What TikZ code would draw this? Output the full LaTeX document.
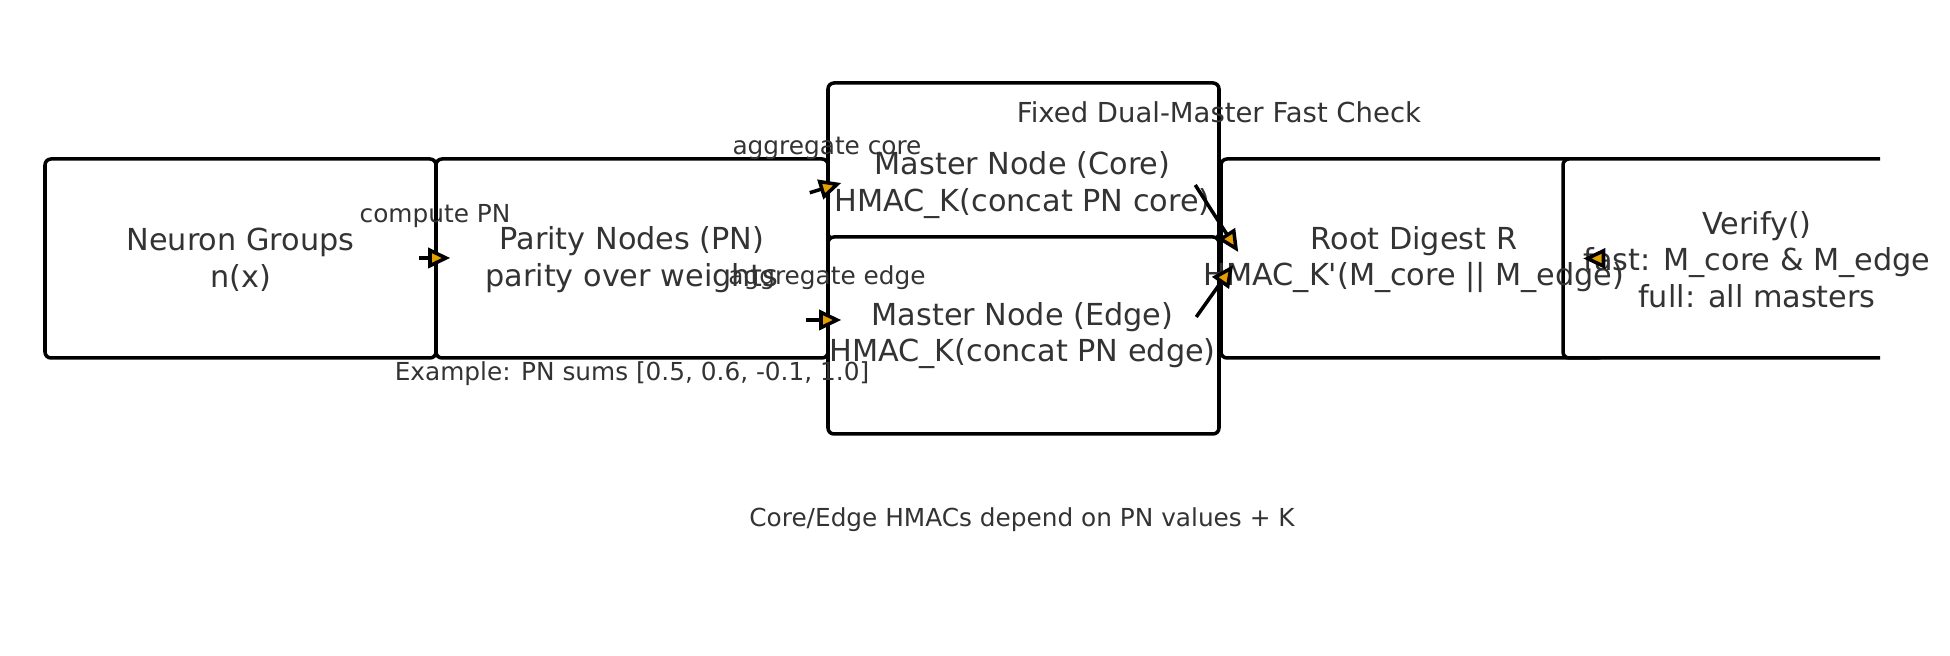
\documentclass[tikz,border=0pt]{standalone}
\usepackage{fontspec}
\setmainfont{DejaVu Sans}
\usetikzlibrary{arrows.meta,calc}
\definecolor{inkgray}{HTML}{333333}
\definecolor{tipfill}{HTML}{E69F00}
\begin{document}
\begin{tikzpicture}[line width=1pt,
  box/.style={draw=black, fill=white, rounded corners=0.06cm, minimum width=3.91cm, minimum height=1.99cm, inner sep=0pt},
  txt/.style={text=inkgray, align=center, inner sep=0pt, font=\fontsize{8.62}{10.4}\selectfont},
  ttl/.style={text=inkgray, inner sep=0pt, font=\fontsize{7.82}{9.4}\selectfont},
  lbl/.style={text=inkgray, inner sep=0pt, font=\fontsize{7.05}{8.5}\selectfont},
  flow/.style={-{Triangle[length=0.22cm, width=0.2cm, fill=tipfill]}}]
  \useasboundingbox (0,0) rectangle (19.5,-6.56);
  % cajas
  \node[box] (neuron) at (2.405,-2.585) {};
  \node[box, minimum width=3.92cm] (parity) at (6.32,-2.585) {};
  \node[box, minimum height=1.56cm] (core) at (10.235,-1.61) {};
  \node[box, minimum height=1.97cm] (edge) at (10.235,-3.355) {};
  \node[box, minimum width=3.83cm] (root) at (14.125,-2.585) {};
  \begin{scope}
    \clip (0,0) rectangle (18.8,-6.56);
    \node[box, minimum width=3.90cm] (verify) at (17.58,-2.585) {};
  \end{scope}
  % textos
  \node[txt] (neurontxt) at ($(neuron)+(0,-0.01)$) {Neuron Groups\\n(x)};
  \node[txt] (paritytxt) at ($(parity)+(0,-0.01)$) {Parity Nodes (PN)\\parity over weights};
  \node[txt] (coretxt) at ($(core)+(-0.01,-0.24)$) {Master Node (Core)\\HMAC\_K(concat PN core)};
  \node[txt] (edgetxt) at ($(edge)+(-0.01,0.0)$) {Master Node (Edge)\\HMAC\_K(concat PN edge)};
  \node[txt] (roottxt) at ($(root)+(0.015,-0.01)$) {Root Digest R\\HMAC\_K\textquotesingle(M\_core || M\_edge)};
  \node[txt] (verifytxt) at ($(verify)+(-0.01,-0.01)$) {Verify()\\fast: M\_core \& M\_edge\\full: all masters};
  % flechas
  \draw[flow] ($(neuron.east)+(-0.19,0.005)$) -- ($(parity.west)+(0.16,0.005)$);
  \draw[flow] ($(parity.north east)+(-0.20,-0.355)$) -- ($(core.west)+(0.15,-0.22)$);
  \draw[flow] ($(edge.west)+(-0.20,0.155)$) -- ($(edge.west)+(0.15,0.155)$);
  \draw[flow] ($(root.west)+(-0.24,0.735)$) -- ($(root.west)+(0.19,0.065)$);
  \draw[flow] ($(root.west)+(-0.23,-0.585)$) -- ($(root.west)+(0.14,-0.065)$);
  \draw[flow] ($(verify.west)+(0.43,0)$) -- ($(verify.west)+(0.22,0)$);
  % etiquetas
  \node[lbl] (computelbl) at (4.35,-2.16) {compute PN};
  \node[lbl] (aggcorelbl) at (8.27,-1.48) {aggregate core};
  \node[lbl] (aggedgelbl) at (8.27,-2.78) {aggregate edge};
  \node[lbl] (examplelbl) at (6.32,-3.74) {Example: PN sums [0.5, 0.6, -0.1, 1.0]};
  \node[ttl] (title) at (12.19,-1.12) {Fixed Dual-Master Fast Check};
  \node[lbl] (notelbl) at (10.22,-5.20) {Core/Edge HMACs depend on PN values + K};
\end{tikzpicture}
\end{document}
